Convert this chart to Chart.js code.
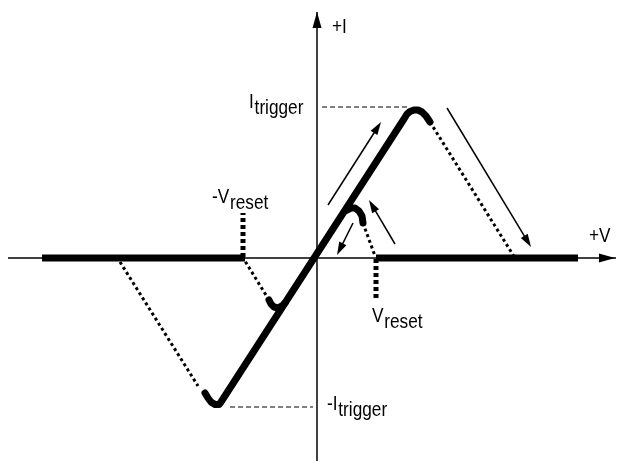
<!DOCTYPE html>
<html>
<head>
<meta charset="utf-8">
<script src="https://cdn.jsdelivr.net/npm/chart.js@4/dist/chart.umd.min.js"></script>
<style>
  html, body { margin: 0; padding: 0; background: #fff; }
  #wrap { width: 620px; height: 461px; }
</style>
</head>
<body>
<div id="wrap"><canvas id="iv" width="620" height="461"></canvas></div>
<script>
// V / I points of the trigger-reset curve (arbitrary units, origin at 0,0)
var mainLoop = [[-111, -135], [-108, -140], [-105, -144], [-101, -146.5], [-97, -146.5], [-95, -144],
    [88.6, 140], [91, 144], [94, 146.5], [98, 148], [102, 148], [106, 146], [110, 142], [114, 136]];
var upperHook = [[31, 48], [35, 50], [39, 50], [43, 47], [46, 42], [47, 35]];
var lowerHook = [[-31, -45], [-34, -48], [-38, -50], [-42, -49], [-45, -46], [-47, -42]];
var offLeft = [[-274, 0], [-71, 0]];
var offRight = [[60, 0], [262, 0]];
var fallRight = [[114, 136], [199, 0]];
var fallUpper = [[47, 35], [59, 2]];
var fallLower = [[-47, -42], [-71, -3]];
var fallLeft = [[-196, -4], [-118, -128]];
var resetNeg = [[-73, 1], [-73, 45]];
var resetPos = [[60, -1], [60, -41]];
var trigPos = [[6, 151], [94, 151]];
var trigNeg = [[-86, -149], [-3, -149]];
var axisV = [[-308, 0], [300, 0]];
var axisI = [[1, -203], [1, 246]];

// direction arrows [from, to]
var arrows = [
    [[12, 53], [65, 136]],
    [[131, 150], [215, 11]],
    [[79, 14], [53, 58]],
    [[37, 35], [21, 3]]
];
var axisHeads = [
    [[290, 0], [299, 0]],
    [[1, 232], [1, 246]]
];

// labels: main text, subscript, anchor
var labels = [
    ['I', 'trigger', [-67, 150]],
    ['-V', 'reset', [-104, 55]],
    ['V', 'reset', [56, -64]],
    ['-I', 'trigger', [11, -152]],
    ['+I', '', [16, 225]],
    ['+V', '', [273, 16]]
];

function pts(a) {
    return a.map(function (p) { return {x: p[0], y: p[1]}; });
}

function line(data, width, dash, cap) {
    return {
        data: pts(data),
        showLine: true,
        borderColor: '#000',
        backgroundColor: '#000',
        borderWidth: width,
        borderDash: dash || [],
        borderCapStyle: cap || 'butt',
        borderJoinStyle: 'round',
        pointRadius: 0,
        tension: 0
    };
}

var fontName = "'Liberation Sans', Arial, sans-serif";
var squeeze = 0.82;

var annotate = {
    id: 'annotate',
    afterDatasetsDraw: function (chart) {
        var ctx = chart.ctx;
        var xs = chart.scales.x, ys = chart.scales.y;
        function px(p) { return [xs.getPixelForValue(p[0]), ys.getPixelForValue(p[1])]; }
        function head(a, b, len, half) {
            var ang = Math.atan2(b[1] - a[1], b[0] - a[0]);
            ctx.beginPath();
            ctx.moveTo(b[0], b[1]);
            ctx.lineTo(b[0] - len * Math.cos(ang) + half * Math.sin(ang), b[1] - len * Math.sin(ang) - half * Math.cos(ang));
            ctx.lineTo(b[0] - len * Math.cos(ang) - half * Math.sin(ang), b[1] - len * Math.sin(ang) + half * Math.cos(ang));
            ctx.closePath();
            ctx.fill();
        }
        ctx.save();
        ctx.strokeStyle = '#000';
        ctx.fillStyle = '#000';
        ctx.lineWidth = 1.5;
        arrows.forEach(function (ar) {
            var a = px(ar[0]), b = px(ar[1]);
            var ang = Math.atan2(b[1] - a[1], b[0] - a[0]);
            ctx.beginPath();
            ctx.moveTo(a[0], a[1]);
            ctx.lineTo(b[0] - 8 * Math.cos(ang), b[1] - 8 * Math.sin(ang));
            ctx.stroke();
            head(a, b, 13, 4);
        });
        axisHeads.forEach(function (ar) {
            var a = px(ar[0]), b = px(ar[1]);
            head(a, b, 16, 4.5);
        });

        // condensed lettering: squeeze a regular sans horizontally
        ctx.textBaseline = 'alphabetic';
        ctx.textAlign = 'left';
        ctx.font = '21px ' + fontName;
        labels.forEach(function (l) {
            var p = px(l[2]);
            ctx.save();
            ctx.translate(p[0], p[1]);
            ctx.scale(squeeze, 1);
            ctx.fillText(l[0], 0, 0);
            if (l[1]) {
                var w = ctx.measureText(l[0]).width;
                ctx.fillText(l[1], w + 1, 6);
            }
            ctx.restore();
        });
        ctx.restore();
    }
};

new Chart(document.getElementById('iv'), {
    type: 'scatter',
    data: {
        datasets: [
            line(axisV, 1.5),
            line(axisI, 1.5),
            line(trigPos, 1.2, [5, 3]),
            line(trigNeg, 1.2, [5, 3]),
            line(fallRight, 3, [3, 3]),
            line(fallUpper, 3, [3, 3]),
            line(fallLower, 3, [3, 3]),
            line(fallLeft, 3, [3, 3]),
            line(resetNeg, 5, [4, 3]),
            line(resetPos, 5, [4, 3]),
            line(offLeft, 7),
            line(offRight, 7),
            line(mainLoop, 7, [], 'round'),
            line(upperHook, 7, [], 'round'),
            line(lowerHook, 7, [], 'round')
        ]
    },
    options: {
        responsive: false,
        animation: false,
        layout: { padding: 0 },
        plugins: { legend: { display: false }, tooltip: { enabled: false } },
        scales: {
            x: { type: 'linear', min: -316, max: 304, display: false },
            y: { type: 'linear', min: -203, max: 258, display: false }
        }
    },
    plugins: [annotate]
});
</script>
</body>
</html>
